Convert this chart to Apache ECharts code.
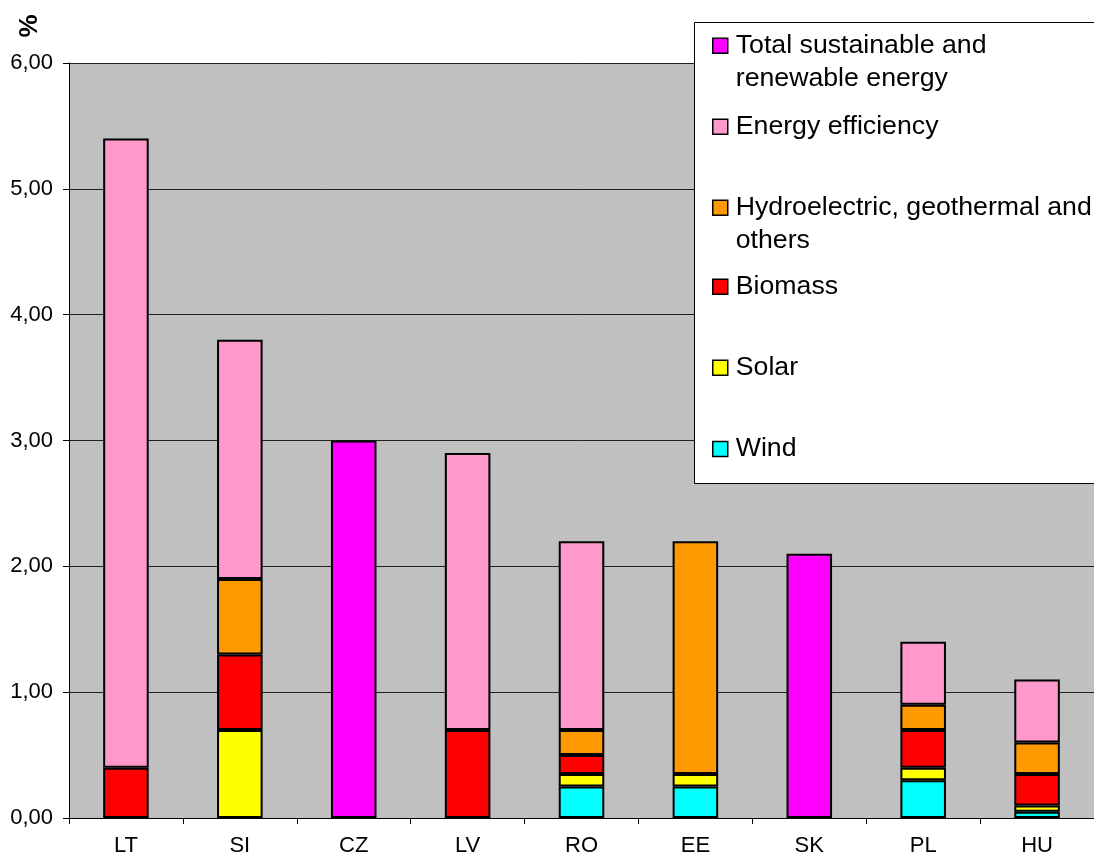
<!DOCTYPE html>
<html>
<head>
<meta charset="utf-8">
<script src="https://cdn.jsdelivr.net/npm/echarts@6/dist/echarts.min.js"></script>
<style>
  html, body { margin: 0; padding: 0; background: #ffffff; }
  #chart { width: 1094px; height: 859px; }
</style>
</head>
<body>
<div id="chart"></div>
<script>
// Country codes along the x axis
const countries = ['LT', 'SI', 'CZ', 'LV', 'RO', 'EE', 'SK', 'PL', 'HU'];

// Shares (%) per source, stacked from the bottom up
const wind       = [null, null, null, null, 0.25, 0.25, null, 0.30, 0.05];
const solar      = [null, 0.70, null, null, 0.10, 0.10, null, 0.10, 0.05];
const biomass    = [0.40, 0.60, null, 0.70, 0.15, null, null, 0.30, 0.25];
const hydro      = [null, 0.60, null, null, 0.20, 1.85, null, 0.20, 0.25];
const efficiency = [5.00, 1.90, null, 2.20, 1.50, null, null, 0.50, 0.50];
const total      = [null, null, 3.00, null, null, null, 2.10, null, null];

// Y axis ticks
const yTicks = [0, 1, 2, 3, 4, 5, 6];

const seriesDefs = [
  { name: 'Wind', data: wind, color: '#00FFFF' },
  { name: 'Solar', data: solar, color: '#FFFF00' },
  { name: 'Biomass', data: biomass, color: '#FF0000' },
  { name: 'Hydroelectric, geothermal and others', data: hydro, color: '#FF9900' },
  { name: 'Energy efficiency', data: efficiency, color: '#FF99CC' },
  { name: 'Total sustainable and renewable energy', data: total, color: '#FF00FF' }
];

// Legend entries, top to bottom, with their wrapped labels
const legendEntries = [
  { name: 'Total sustainable and renewable energy', label: '\nTotal sustainable and\nrenewable energy', center: 45.8 },
  { name: 'Energy efficiency', label: 'Energy efficiency', center: 126.7 },
  { name: 'Hydroelectric, geothermal and others', label: '\nHydroelectric, geothermal and\nothers', center: 207.7 },
  { name: 'Biomass', label: 'Biomass', center: 286.7 },
  { name: 'Solar', label: 'Solar', center: 367.7 },
  { name: 'Wind', label: 'Wind', center: 449 }
];

const FONT = '"Liberation Sans", Arial, sans-serif';
const LEGEND_LINE = 33;

const chart = echarts.init(document.getElementById('chart'), null, { renderer: 'canvas' });

const legends = legendEntries.map(function (e) {
  const lines = e.label.split('\n').length;
  const half = lines * LEGEND_LINE / 2;
  return {
    z: 20,
    data: [e.name],
    orient: 'vertical',
    left: 712,
    top: e.center - half,
    padding: 0,
    itemWidth: 15,
    itemHeight: 15,
    itemGap: 0,
    selectedMode: false,
    icon: 'rect',
    itemStyle: { borderColor: '#000', borderWidth: 1.5 },
    formatter: function () { return e.label; },
    textStyle: {
      fontFamily: FONT,
      fontSize: 26.7,
      color: '#000',
      lineHeight: LEGEND_LINE,
      padding: [0, 0, 0, 3]
    }
  };
});

const option = {
  animation: false,
  backgroundColor: '#ffffff',
  grid: {
    left: 69,
    right: -1,
    top: 63,
    bottom: 41,
    show: true,
    backgroundColor: '#C0C0C0',
    borderWidth: 0
  },
  graphic: [
    {
      type: 'rect',
      z: 3,
      shape: { x: 694.5, y: 22.5, width: 420, height: 461 },
      style: { fill: '#ffffff', stroke: '#000', lineWidth: 1 }
    },
    {
      type: 'text',
      x: 30,
      y: 26,
      rotation: Math.PI / 2,
      style: {
        text: '%',
        fontFamily: FONT,
        fontSize: 26,
        fontWeight: 'bold',
        fill: '#000',
        align: 'center',
        verticalAlign: 'middle'
      }
    }
  ],
  legend: legends,
  xAxis: {
    type: 'category',
    data: countries,
    axisLine: { lineStyle: { color: '#000', width: 1 } },
    axisTick: { show: true, alignWithLabel: false, length: 6, lineStyle: { color: '#000' } },
    axisLabel: { fontFamily: FONT, fontSize: 22, color: '#000', margin: 17 }
  },
  yAxis: {
    type: 'value',
    min: yTicks[0],
    max: yTicks[yTicks.length - 1],
    interval: 1,
    axisLine: { show: true, lineStyle: { color: '#000', width: 1 } },
    axisTick: { show: true, length: 6, lineStyle: { color: '#000' } },
    splitLine: { show: true, lineStyle: { color: '#202020', width: 1 } },
    axisLabel: {
      fontFamily: FONT,
      fontSize: 22,
      color: '#000',
      margin: 16,
      formatter: function (v) { return v.toFixed(2).replace('.', ','); }
    }
  },
  series: seriesDefs.map(function (s) {
    return {
      name: s.name,
      type: 'bar',
      stack: 'all',
      barWidth: '40%',
      data: s.data,
      itemStyle: { color: s.color, borderColor: '#000', borderWidth: 2 },
      emphasis: { disabled: true }
    };
  })
};

chart.setOption(option);
</script>
</body>
</html>
